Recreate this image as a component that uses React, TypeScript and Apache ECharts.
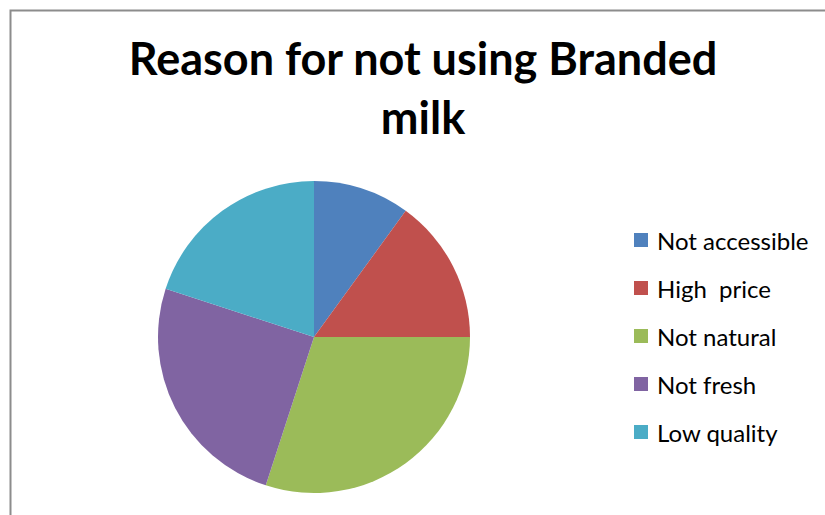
import React, { useEffect, useRef } from "react";
import * as echarts from "echarts";

const categories = ["Not accessible", "High  price", "Not natural", "Not fresh", "Low quality"];
const values = [10, 15, 30, 25, 20];
const colors = ["#4F81BD", "#C0504D", "#9BBB59", "#8064A2", "#4BACC6"];
const titleLines = ["Reason for not using Branded", "milk"];

export default function App() {
  const ref = useRef<HTMLDivElement>(null);
  useEffect(() => {
    if (!ref.current) return;
    const chart = echarts.init(ref.current, null, { renderer: "svg" });
    chart.setOption({
      animation: false,
      backgroundColor: "#ffffff",
      color: colors,
      graphic: [
        {
          type: "rect",
          shape: { x: 10.5, y: 10.5, width: 830, height: 520 },
          style: { fill: "none", stroke: "#8c8c8c", lineWidth: 2 },
          silent: true,
        },
        {
          type: "text",
          x: 423,
          y: 35,
          style: {
            text: titleLines[0],
            font: "bold 45px Lato",
            fill: "#000",
            textAlign: "center",
            textVerticalAlign: "top",
          },
        },
        {
          type: "text",
          x: 423,
          y: 94,
          style: {
            text: titleLines[1],
            font: "bold 45px Lato",
            fill: "#000",
            textAlign: "center",
            textVerticalAlign: "top",
          },
        },
      ],
      legend: {
        orient: "vertical",
        left: 634,
        top: 228,
        padding: 0,
        icon: "rect",
        itemWidth: 14,
        itemHeight: 14,
        itemGap: 24,
        textStyle: {
          fontFamily: "Lato",
          fontSize: 24,
          color: "#000",
          lineHeight: 24,
          padding: [0, 0, 0, 4],
        },
        data: categories,
      },
      series: [
        {
          type: "pie",
          center: [314, 337],
          radius: 156,
          startAngle: 90,
          clockwise: true,
          label: { show: false },
          labelLine: { show: false },
          itemStyle: { borderWidth: 0 },
          data: categories.map((c, i) => ({ name: c, value: values[i] })),
        },
      ],
    });
    return () => chart.dispose();
  }, []);
  return (
    <div
      ref={ref}
      style={{ position: "fixed", left: 0, top: 0, width: 825, height: 515 }}
    />
  );
}
